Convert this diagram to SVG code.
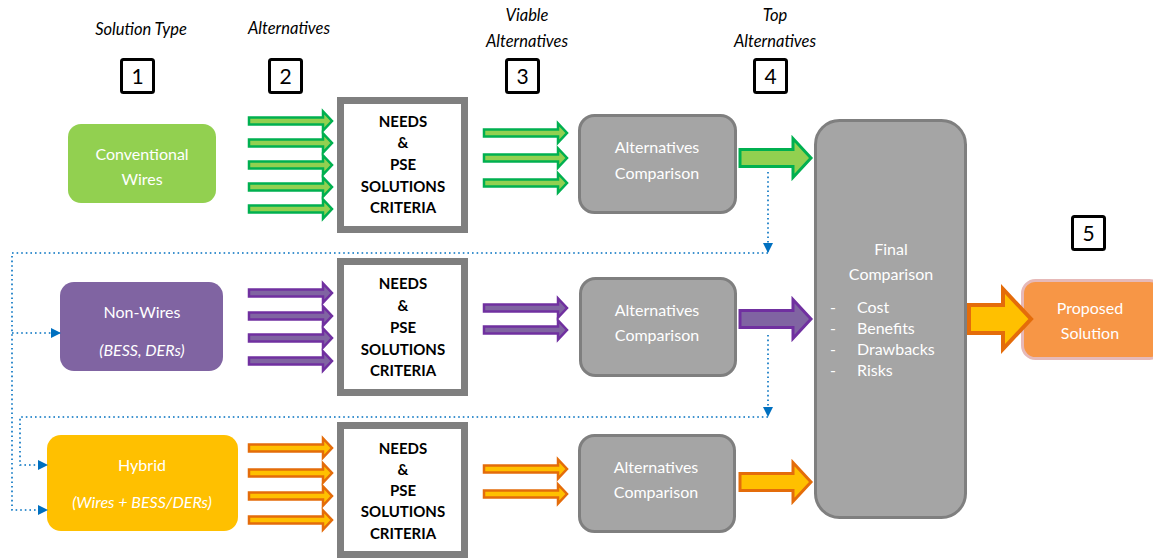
<svg xmlns="http://www.w3.org/2000/svg" xmlns:xlink="http://www.w3.org/1999/xlink" width="1153" height="559" viewBox="0 0 1153 559">
<style>
text{font-family:Lato,"Liberation Sans",sans-serif}
.hdr{font-size:16.5px;font-style:italic;fill:#000;text-anchor:middle}
.num{font-size:21px;fill:#000;text-anchor:middle}
.nb{fill:#fff;stroke:#000;stroke-width:3}
.wt{font-size:16px;fill:#fff;text-anchor:middle}
.lt{font-size:16px;fill:#fff;text-anchor:start}
.it{font-style:italic;font-size:16px}
.crit{fill:#fff;stroke:#7f7f7f;stroke-width:7}
.ct{font-size:15px;font-weight:bold;fill:#000;text-anchor:middle}
.cmp{fill:#a5a5a5;stroke:#7f7f7f;stroke-width:3}
.g{fill:#92d050;stroke:#00b050;stroke-width:2.5}
.p{fill:#8064a2;stroke:#7030a0;stroke-width:2.5}
.o{fill:#ffc000;stroke:#e46c0a;stroke-width:2.5}
.gb{fill:#92d050;stroke:#00b050;stroke-width:3}
.pb{fill:#8064a2;stroke:#7030a0;stroke-width:3}
.ob{fill:#ffc000;stroke:#e46c0a;stroke-width:3}
.dot{fill:none;stroke:#0070c0;stroke-width:1.6;stroke-dasharray:1.6 3}
</style>
<defs>
<path id="sa" d="M0,-3.5 H74 V-9.5 L83,0 L74,9.5 V3.5 H0 Z"/>
<path id="ba" d="M0,-8.5 H53 V-19.5 L71,0 L53,19.5 V8.5 H0 Z"/>
<marker id="ah" viewBox="0 0 10 10" refX="9" refY="5" markerWidth="10" markerHeight="10" markerUnits="userSpaceOnUse" orient="auto">
<path d="M0,0 L10,5 L0,10 Z" fill="#0070c0"/>
</marker>
</defs>

<g id="headers">
<text class="hdr" x="141" y="35">Solution Type</text>
<text class="hdr" x="289" y="34">Alternatives</text>
<text class="hdr" x="527" y="21">Viable</text>
<text class="hdr" x="527" y="47">Alternatives</text>
<text class="hdr" x="775" y="21">Top</text>
<text class="hdr" x="775" y="47">Alternatives</text>
</g>

<g id="step1"><rect class="nb" x="121.5" y="59.5" width="32" height="33" rx="2"/><text class="num" x="137.5" y="84">1</text></g>
<g id="step2"><rect class="nb" x="269.5" y="59.5" width="32" height="33" rx="2"/><text class="num" x="285.5" y="84">2</text></g>
<g id="step3"><rect class="nb" x="506.5" y="59.5" width="32" height="33" rx="2"/><text class="num" x="522.5" y="84">3</text></g>
<g id="step4"><rect class="nb" x="754.5" y="59.5" width="32" height="33" rx="2"/><text class="num" x="770.5" y="84">4</text></g>
<g id="step5"><rect class="nb" x="1072.5" y="216.5" width="32" height="33" rx="2"/><text class="num" x="1088.5" y="241">5</text></g>

<g id="conventional">
<rect x="68" y="124" width="148" height="79" rx="13" fill="#92d050"/>
<text class="wt" x="142" y="160">Conventional</text>
<text class="wt" x="142" y="185">Wires</text>
</g>
<g id="nonwires">
<rect x="60" y="282" width="163" height="89" rx="14" fill="#8064a2"/>
<text class="wt" x="142" y="318">Non-Wires</text>
<text class="wt it" x="142" y="356">(BESS, DERs)</text>
</g>
<g id="hybrid">
<rect x="47" y="435" width="191" height="96" rx="14" fill="#ffc000"/>
<text class="wt" x="142" y="471">Hybrid</text>
<text class="wt it" x="142" y="508">(Wires + BESS/DERs)</text>
</g>

<g id="criteria1">
<rect class="crit" x="340.5" y="100.5" width="124" height="129"/>
<text class="ct" x="403" y="127">NEEDS</text>
<text class="ct" x="403" y="148">&amp;</text>
<text class="ct" x="403" y="170">PSE</text>
<text class="ct" x="403" y="192">SOLUTIONS</text>
<text class="ct" x="403" y="213">CRITERIA</text>
</g>
<g id="criteria2">
<rect class="crit" x="340.5" y="261.5" width="124" height="131"/>
<text class="ct" x="403" y="289">NEEDS</text>
<text class="ct" x="403" y="311">&amp;</text>
<text class="ct" x="403" y="333">PSE</text>
<text class="ct" x="403" y="355">SOLUTIONS</text>
<text class="ct" x="403" y="376">CRITERIA</text>
</g>
<g id="criteria3">
<rect class="crit" x="340.5" y="425.5" width="124" height="129"/>
<text class="ct" x="403" y="454">NEEDS</text>
<text class="ct" x="403" y="475">&amp;</text>
<text class="ct" x="403" y="496">PSE</text>
<text class="ct" x="403" y="517">SOLUTIONS</text>
<text class="ct" x="403" y="539">CRITERIA</text>
</g>

<g id="comparison1">
<rect class="cmp" x="579.5" y="115.5" width="156" height="97" rx="15"/>
<text class="wt" x="657" y="153">Alternatives</text>
<text class="wt" x="657" y="179">Comparison</text>
</g>
<g id="comparison2">
<rect class="cmp" x="580.5" y="278.5" width="155" height="97" rx="15"/>
<text class="wt" x="657" y="316">Alternatives</text>
<text class="wt" x="657" y="341">Comparison</text>
</g>
<g id="comparison3">
<rect class="cmp" x="579.5" y="435.5" width="155" height="96" rx="15"/>
<text class="wt" x="656" y="473">Alternatives</text>
<text class="wt" x="656" y="498">Comparison</text>
</g>

<g id="final">
<rect class="cmp" x="815.5" y="120.5" width="150" height="397" rx="24"/>
<text class="wt" x="891" y="255">Final</text>
<text class="wt" x="891" y="280">Comparison</text>
<text class="lt" x="830" y="313">-</text>
<text class="lt" x="830" y="334">-</text>
<text class="lt" x="830" y="355">-</text>
<text class="lt" x="830" y="376">-</text>
<text class="lt" x="857" y="313">Cost</text>
<text class="lt" x="857" y="334">Benefits</text>
<text class="lt" x="857" y="355">Drawbacks</text>
<text class="lt" x="857" y="376">Risks</text>
</g>

<g id="proposed">
<rect x="1022.5" y="280.5" width="140" height="78" rx="13" fill="#f79646" stroke="#e6b9b8" stroke-width="3"/>
<text class="wt" x="1090" y="314">Proposed</text>
<text class="wt" x="1090" y="339">Solution</text>
</g>

<g id="connectors">
<use xlink:href="#sa" href="#sa" class="g" x="249" y="121"/>
<use xlink:href="#sa" href="#sa" class="g" x="249" y="143"/>
<use xlink:href="#sa" href="#sa" class="g" x="249" y="165"/>
<use xlink:href="#sa" href="#sa" class="g" x="249" y="187"/>
<use xlink:href="#sa" href="#sa" class="g" x="249" y="209"/>
<use xlink:href="#sa" href="#sa" class="p" x="249" y="293"/>
<use xlink:href="#sa" href="#sa" class="p" x="249" y="316"/>
<use xlink:href="#sa" href="#sa" class="p" x="249" y="338"/>
<use xlink:href="#sa" href="#sa" class="p" x="249" y="361"/>
<use xlink:href="#sa" href="#sa" class="o" x="249" y="448"/>
<use xlink:href="#sa" href="#sa" class="o" x="249" y="473"/>
<use xlink:href="#sa" href="#sa" class="o" x="249" y="496"/>
<use xlink:href="#sa" href="#sa" class="o" x="249" y="520"/>
<use xlink:href="#sa" href="#sa" class="g" x="484" y="133"/>
<use xlink:href="#sa" href="#sa" class="g" x="484" y="158"/>
<use xlink:href="#sa" href="#sa" class="g" x="484" y="183"/>
<use xlink:href="#sa" href="#sa" class="p" x="484" y="308"/>
<use xlink:href="#sa" href="#sa" class="p" x="484" y="330"/>
<use xlink:href="#sa" href="#sa" class="o" x="484" y="469"/>
<use xlink:href="#sa" href="#sa" class="o" x="484" y="494"/>
<use xlink:href="#ba" href="#ba" class="gb" x="740" y="158"/>
<use xlink:href="#ba" href="#ba" class="pb" x="740" y="319"/>
<use xlink:href="#ba" href="#ba" class="ob" x="740" y="482"/>
<path d="M969,305 H1003 V289 L1031,319 L1003,349 V333 H969 Z" fill="#ffc000" stroke="#e46c0a" stroke-width="4"/>
<path class="dot" d="M768,172 V252" marker-end="url(#ah)"/>
<path class="dot" d="M768,253 H12 V510 H47" marker-end="url(#ah)"/>
<path class="dot" d="M12,333 H60" marker-end="url(#ah)"/>
<path class="dot" d="M768,335 V416" marker-end="url(#ah)"/>
<path class="dot" d="M768,417 H20 V465 H47" marker-end="url(#ah)"/>
</g>
</svg>
